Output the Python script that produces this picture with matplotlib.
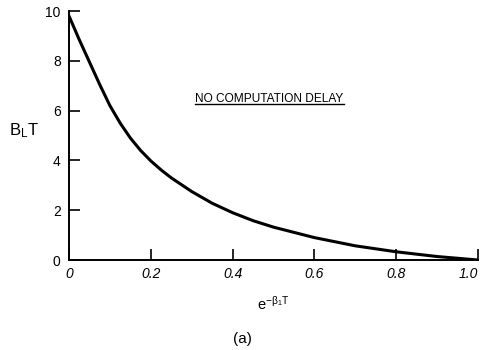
import matplotlib
matplotlib.use("Agg")
import matplotlib.pyplot as plt
from matplotlib.lines import Line2D

# values
x_vals = [0.0, 0.025, 0.05, 0.075, 0.1, 0.125, 0.15, 0.175, 0.2, 0.225, 0.25,
          0.3, 0.35, 0.4, 0.45, 0.5, 0.6, 0.7, 0.8, 0.9, 1.0]
y_vals = [9.8, 8.85, 7.95, 7.05, 6.2, 5.5, 4.9, 4.4, 3.98, 3.62, 3.3,
          2.75, 2.28, 1.9, 1.58, 1.32, 0.9, 0.57, 0.33, 0.14, 0.0]
x_ticks = [0, 0.2, 0.4, 0.6, 0.8, 1.0]
x_tick_labels = ["0", "0.2", "0.4", "0.6", "0.8", "1.0"]
y_ticks = [0, 2, 4, 6, 8, 10]

plt.rcParams['font.family'] = ['Liberation Sans', 'DejaVu Sans']
plt.rcParams['mathtext.fontset'] = 'custom'
plt.rcParams['mathtext.rm'] = 'Liberation Sans'
plt.rcParams['mathtext.it'] = 'Liberation Sans:italic'

fig = plt.figure(figsize=(4.85, 3.5), dpi=100)
ax = fig.add_axes([0.1423, 0.2571, 0.8433, 0.7114])

ax.plot(x_vals, y_vals, color='black', lw=2.2, solid_capstyle='round',
        solid_joinstyle='round')

ax.set_xlim(0, 1.0)
ax.set_ylim(0, 10)
ax.spines['top'].set_visible(False)
ax.spines['right'].set_visible(False)
for s in ['left', 'bottom']:
    ax.spines[s].set_linewidth(1.4)

ax.set_xticks(x_ticks)
ax.set_xticklabels(x_tick_labels, fontstyle='italic')
ax.get_xticklabels()[-1].set_ha('right')
ax.set_yticks(y_ticks)
ax.tick_params(axis='both', direction='in', length=8, width=1.2, labelsize=10, pad=5)
ax.tick_params(axis='y', pad=6)
# longer tick at the top of the y axis
ax.set_yticks([10], minor=True)
ax.tick_params(axis='y', which='minor', direction='in', length=11, width=1.4)

ax.set_ylabel(r'$\mathrm{B_L T}$', rotation=0, fontsize=12, va='center')
ax.yaxis.set_label_coords(-0.11, 0.52)
ax.set_xlabel(r'$\mathrm{e^{-\beta_1 T}}$', fontsize=10.5, labelpad=10)

txt = ax.text(0.49, 0.635, 'NO COMPUTATION DELAY', transform=ax.transAxes,
              ha='center', va='baseline', fontsize=8.6)

fig.text(0.5, 0.03, '(a)', ha='center', va='center', fontsize=11)

# underline the annotation
fig.canvas.draw()
bb = txt.get_window_extent().transformed(fig.transFigure.inverted())
fig.add_artist(Line2D([bb.x0, bb.x1], [bb.y0 + 0.002, bb.y0 + 0.002],
                      transform=fig.transFigure, color='black', lw=1.0))

fig.savefig('out.png', dpi=100)
plt.close()
